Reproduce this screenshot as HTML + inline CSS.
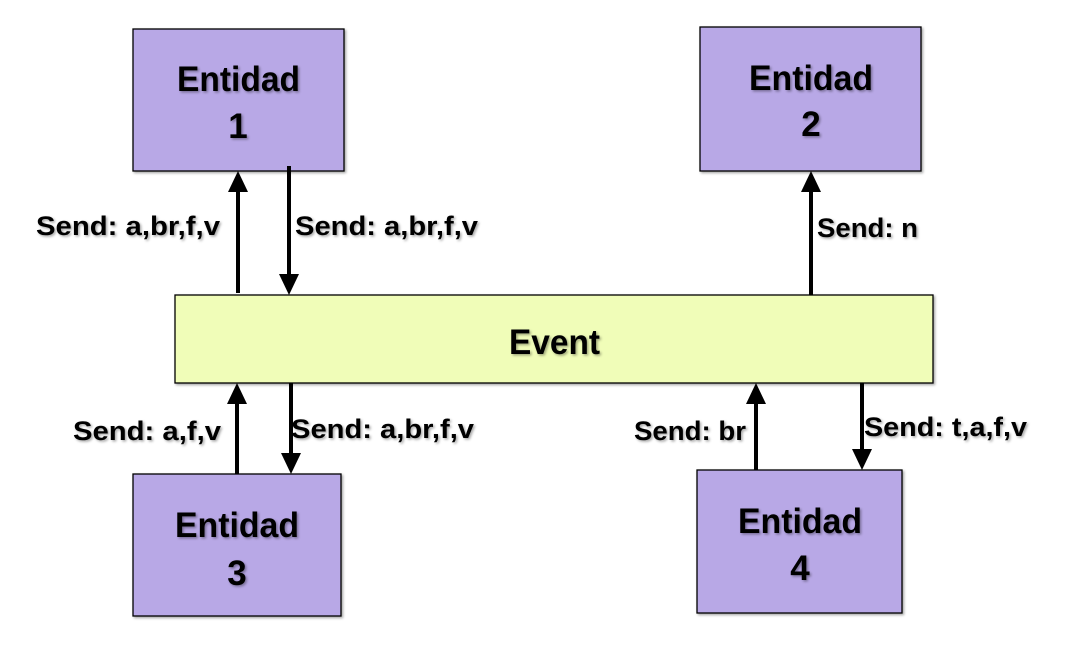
<!DOCTYPE html>
<html><head><meta charset="utf-8"><style>
body{margin:0;width:1073px;height:649px;background:#fff;overflow:hidden}
svg text{font-family:"Liberation Sans",sans-serif;font-weight:bold;fill:#000}
.lb{font-size:27px}
.ent{font-size:35px}
</style></head><body>
<svg width="1073" height="649" viewBox="0 0 1073 649">
<defs>
<filter id="sh" x="-10%" y="-10%" width="130%" height="130%"><feDropShadow dx="1.5" dy="1.5" stdDeviation="1.2" flood-color="#000" flood-opacity="0.35"/></filter>
</defs>
<g stroke="#000" stroke-width="1.3" filter="url(#sh)">
<rect x="133" y="29" width="211" height="142" fill="#b8a8e6"/>
<rect x="700" y="27" width="221" height="144" fill="#b8a8e6"/>
<rect x="175" y="295" width="758" height="88" fill="#f0fdb8"/>
<rect x="133" y="474" width="208" height="142" fill="#b8a8e6"/>
<rect x="697" y="470" width="205" height="143" fill="#b8a8e6"/>
</g>
<g stroke="#000" stroke-width="4">
<line x1="238" y1="293" x2="238" y2="190"/>
<line x1="289" y1="166" x2="289" y2="276"/>
<line x1="811" y1="295" x2="811" y2="190"/>
<line x1="237" y1="474" x2="237" y2="402"/>
<line x1="291" y1="383" x2="291" y2="455"/>
<line x1="756" y1="470" x2="756" y2="402"/>
<line x1="862" y1="383" x2="862" y2="451"/>
</g>
<g fill="#000">
<polygon points="238,171 228,192 248,192"/>
<polygon points="289,295 279,274 299,274"/>
<polygon points="811,171 801,192 821,192"/>
<polygon points="237,383 227,404 247,404"/>
<polygon points="291,474 281,453 301,453"/>
<polygon points="756,383 746,404 766,404"/>
<polygon points="862,470 852,449 872,449"/>
</g>
<g filter="url(#sh)">
<text class="ent" x="177" y="91" textLength="123" lengthAdjust="spacingAndGlyphs">Entidad</text>
<text class="ent" x="238" y="138" text-anchor="middle">1</text>
<text class="ent" x="749" y="90" textLength="124" lengthAdjust="spacingAndGlyphs">Entidad</text>
<text class="ent" x="811" y="136" text-anchor="middle">2</text>
<text class="ent" x="175" y="537" textLength="124" lengthAdjust="spacingAndGlyphs">Entidad</text>
<text class="ent" x="237" y="585" text-anchor="middle">3</text>
<text class="ent" x="738" y="533" textLength="124" lengthAdjust="spacingAndGlyphs">Entidad</text>
<text class="ent" x="800" y="580" text-anchor="middle">4</text>
<text class="ent" x="509" y="354" textLength="91" lengthAdjust="spacingAndGlyphs">Event</text>
<text class="lb" x="36" y="235" textLength="184" lengthAdjust="spacingAndGlyphs">Send: a,br,f,v</text>
<text class="lb" x="295" y="235" textLength="183" lengthAdjust="spacingAndGlyphs">Send: a,br,f,v</text>
<text class="lb" x="817" y="237" textLength="101" lengthAdjust="spacingAndGlyphs">Send: n</text>
<text class="lb" x="73" y="440" textLength="148" lengthAdjust="spacingAndGlyphs">Send: a,f,v</text>
<text class="lb" x="291" y="438" textLength="183" lengthAdjust="spacingAndGlyphs">Send: a,br,f,v</text>
<text class="lb" x="634" y="440" textLength="112" lengthAdjust="spacingAndGlyphs">Send: br</text>
<text class="lb" x="864" y="436" textLength="163" lengthAdjust="spacingAndGlyphs">Send: t,a,f,v</text>
</g>
</svg>
</body></html>
